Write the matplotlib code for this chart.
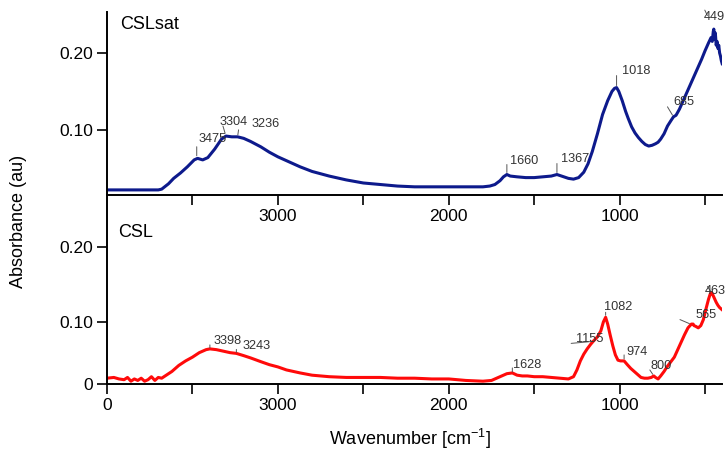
import numpy as np
import matplotlib
matplotlib.use("Agg")
import matplotlib.pyplot as plt

plt.rcParams["font.family"] = ["Liberation Sans", "DejaVu Sans"]
plt.rcParams["mathtext.fontset"] = "custom"
plt.rcParams["mathtext.rm"] = "Liberation Sans"
plt.rcParams["mathtext.it"] = "Liberation Sans"

_BLUE = "#0d1a8c"
_RED = "#ff0a0a"
_GREY = "#333333"

# CSLsat spectrum (top)
sat_wn = [4000, 3900, 3800, 3700, 3680, 3640, 3610, 3570, 3530, 3490, 3470, 3440,
          3410, 3370, 3330, 3304, 3270, 3236, 3200, 3160, 3100, 3050, 3000, 2950,
          2870, 2800, 2700, 2600, 2500, 2400, 2300, 2200, 2100, 2000, 1900, 1800,
          1760, 1730, 1700, 1680, 1660, 1640, 1600, 1550, 1500, 1450, 1400, 1367,
          1340, 1300, 1270, 1240, 1210, 1185, 1160, 1130, 1100, 1070, 1045, 1030,
          1018, 1005, 985, 965, 950, 930, 910, 890, 870, 850, 830, 810, 790, 775,
          760, 740, 720, 700, 685, 670, 650, 620, 590, 560, 540, 520, 500, 480,
          465, 458, 452, 449, 445, 440, 435, 430, 425, 420, 415, 410, 405, 400]
sat_abs = [0.022, 0.022, 0.022, 0.022, 0.023, 0.030, 0.037, 0.044, 0.052, 0.061, 0.063, 0.061,
           0.064, 0.075, 0.088, 0.092, 0.091, 0.091, 0.089, 0.085, 0.078, 0.071, 0.065, 0.060,
           0.052, 0.046, 0.040, 0.035, 0.031, 0.029, 0.027, 0.026, 0.026, 0.026, 0.026, 0.026,
           0.027, 0.029, 0.034, 0.039, 0.042, 0.040, 0.039, 0.038, 0.038, 0.039, 0.040, 0.042,
           0.040, 0.037, 0.036, 0.038, 0.045, 0.056, 0.072, 0.095, 0.120, 0.138, 0.150, 0.154,
           0.155, 0.150, 0.138, 0.124, 0.115, 0.104, 0.096, 0.090, 0.085, 0.081, 0.079, 0.080,
           0.082, 0.084, 0.088, 0.095, 0.105, 0.112, 0.117, 0.119, 0.127, 0.142, 0.157, 0.172,
           0.182, 0.192, 0.203, 0.213, 0.220, 0.215, 0.228, 0.231, 0.218, 0.226, 0.210, 0.215,
           0.206, 0.210, 0.200, 0.196, 0.190, 0.186]
sat_peaks = [3475, 3304, 3236, 1660, 1367, 1018, 685, 449]

# CSL spectrum (bottom)
csl_wn = [4000, 3960, 3930, 3900, 3880, 3860, 3840, 3820, 3800, 3780, 3760, 3740,
          3720, 3700, 3680, 3660, 3620, 3580, 3540, 3500, 3460, 3420, 3398, 3360,
          3320, 3280, 3243, 3200, 3160, 3100, 3050, 3000, 2950, 2870, 2800, 2700,
          2600, 2500, 2400, 2300, 2200, 2100, 2000, 1900, 1800, 1750, 1720, 1690,
          1660, 1628, 1600, 1570, 1540, 1500, 1450, 1400, 1350, 1300, 1270, 1250,
          1230, 1210, 1190, 1170, 1155, 1130, 1110, 1095, 1082, 1070, 1055, 1040,
          1025, 1010, 995, 974, 955, 935, 915, 895, 875, 855, 835, 815, 800, 790,
          775, 760, 740, 720, 700, 680, 660, 640, 620, 600, 580, 570, 565, 555,
          540, 525, 510, 495, 480, 470, 463, 455, 445, 435, 425, 415, 405, 400]
csl_abs = [0.025, 0.026, 0.024, 0.023, 0.026, 0.021, 0.024, 0.022, 0.025, 0.021, 0.023, 0.027,
           0.022, 0.026, 0.025, 0.028, 0.034, 0.042, 0.048, 0.053, 0.059, 0.063, 0.064, 0.063,
           0.061, 0.059, 0.058, 0.055, 0.052, 0.047, 0.043, 0.040, 0.036, 0.032, 0.029, 0.027,
           0.026, 0.026, 0.026, 0.025, 0.025, 0.024, 0.024, 0.022, 0.021, 0.022, 0.025, 0.028,
           0.031, 0.032, 0.029, 0.028, 0.028, 0.027, 0.027, 0.026, 0.025, 0.024, 0.027, 0.036,
           0.048, 0.057, 0.064, 0.070, 0.074, 0.080, 0.088, 0.100, 0.106, 0.097, 0.082, 0.068,
           0.056, 0.049, 0.048, 0.048, 0.043, 0.038, 0.034, 0.030, 0.026, 0.025, 0.025, 0.026,
           0.028, 0.026, 0.024, 0.028, 0.034, 0.041, 0.047, 0.053, 0.063, 0.073, 0.083, 0.092,
           0.097, 0.097, 0.095, 0.094, 0.092, 0.095, 0.103, 0.117, 0.130, 0.137, 0.139, 0.136,
           0.131, 0.126, 0.122, 0.119, 0.117, 0.116]
csl_peaks = [3398, 3243, 1628, 1155, 1082, 974, 800, 565, 463]

# label placement in pixels: (text dx, text dy, leader gap, leader end dx, dy)
sat_place = [(2, 20, 3, 0, 12), (-6, 14, 3, -3, 10), (14, 13, 2, 1, 7),
             (3, 14, 2, 0, 10), (4, 16, 2, 0, 11), (5, 17, 2, 0, 12),
             (0, 15, 2, -6, 10), (-10, 12, 15, -9, 19)]
csl_place = [(4, 8, 1, 0, 4), (6, 7, 1, 0, 4), (1, 8, 1, 0, 5),
             (-17, 2, 0, -22, -2), (-2, 10, 2, 0, 5), (2, 9, 2, 0, 6),
             (-3, 10, 2, -4, 6), (2, 11, 5, -14, 6), (-7, 2, 2, -4, 6)]

_PX = 72.0 / 100.0  # pixels to points at dpi 100


def _style(ax, ylim, yticks, ylabels, xlabels):
    ax.set_facecolor("none")
    ax.set_xlim(4000, 400)
    ax.set_ylim(*ylim)
    ax.set_yticks(yticks)
    ax.set_yticklabels(ylabels)
    ax.set_xticks(list(xlabels.keys()))
    ax.set_xticklabels(list(xlabels.values()))
    ax.set_xticks([3500, 2500, 1500, 500], minor=True)
    ax.tick_params(axis="both", which="both", direction="out", length=7,
                   width=1.2, labelsize=12.5, colors="black", pad=3)
    ax.spines["top"].set_visible(False)
    ax.spines["right"].set_visible(False)
    ax.spines["left"].set_linewidth(1.4)
    ax.spines["bottom"].set_linewidth(1.4)


def _label_peaks(ax, wn, ab, peaks, places):
    xs = np.array(wn[::-1], dtype=float)
    ys = np.array(ab[::-1], dtype=float)
    for p, (tx, ty, gap, lx, ly) in zip(peaks, places):
        y = np.interp(p, xs, ys)
        # short leader mark above the peak
        ax.annotate(
            "", xy=(p, y), xycoords="data",
            xytext=(lx * _PX, ly * _PX), textcoords="offset points",
            arrowprops=dict(arrowstyle="-", color="#555555", lw=0.7,
                            shrinkA=0, shrinkB=gap * _PX),
        )
        ax.annotate(
            str(p), xy=(p, y), xytext=(tx * _PX, ty * _PX),
            textcoords="offset points", ha="left", va="center",
            fontsize=9.2, color=_GREY,
        )


fig = plt.figure(figsize=(7.28, 4.51), dpi=100)
ax2 = fig.add_axes([0.147, 0.1486, 0.845, 0.4194])
ax1 = fig.add_axes([0.147, 0.568, 0.845, 0.405])

ax1.plot(sat_wn, sat_abs, color=_BLUE, lw=2.2)
_style(ax1, (0.0156, 0.253), [0.10, 0.20], ["0.10", "0.20"],
       {3000: "3000", 2000: "2000", 1000: "1000"})
_label_peaks(ax1, sat_wn, sat_abs, sat_peaks, sat_place)
ax1.text(0.021, 0.93, "CSLsat", transform=ax1.transAxes, fontsize=13,
         ha="left", va="center")

ax2.plot(csl_wn, csl_abs, color=_RED, lw=2.2)
_style(ax2, (0.0173, 0.269), [0.0173, 0.10, 0.20], ["0", "0.10", "0.20"],
       {4000: "0", 3000: "3000", 2000: "2000", 1000: "1000"})
_label_peaks(ax2, csl_wn, csl_abs, csl_peaks, csl_place)
ax2.text(0.018, 0.80, "CSL", transform=ax2.transAxes, fontsize=13,
         ha="left", va="center")

fig.text(0.025, 0.508, "Absorbance (au)", rotation=90, fontsize=13,
         ha="center", va="center")
fig.text(0.563, 0.026, "Wavenumber [cm$^{-1}$]", fontsize=13,
         ha="center", va="center")

fig.savefig("out.png", dpi=100)
plt.close(fig)
